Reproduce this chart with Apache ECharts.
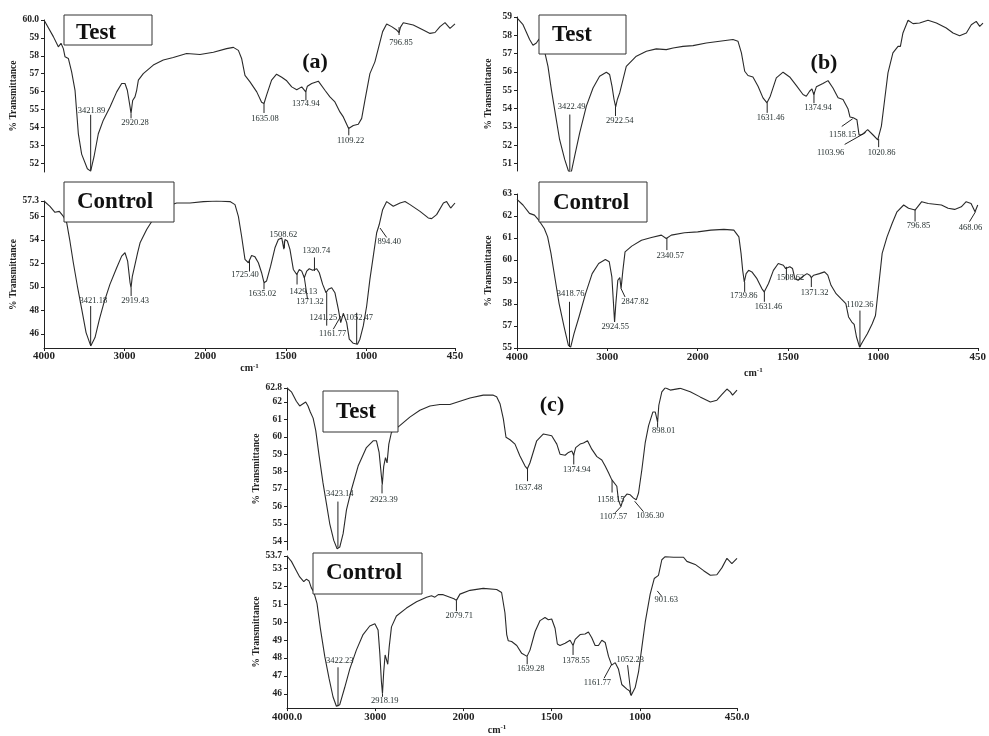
<!DOCTYPE html>
<html><head><meta charset="utf-8">
<script src="https://cdn.jsdelivr.net/npm/echarts@6/dist/echarts.min.js"></script>
<style>html,body{margin:0;padding:0;background:#fff}#c{width:989px;height:736px}</style>
</head><body><div id="c"></div>
<script>
// ---------- spectra: [wavenumber (cm-1), % transmittance] ----------
const aTest = [[4000,60.0],[3884,59.07],[3822,58.5],[3789,58.7],[3760,58.4],[3739,57.94],[3698,57.85],[3657,57.1],[3615,56.07],[3574,53.65],[3533,52.5],[3462,51.68],[3421,51.55],[3380,52.34],[3326,53.64],[3264,54.4],[3181,55.14],[3098,55.98],[3036,56.45],[2995,56.45],[2966,56.07],[2932,55.14],[2920,54.77],[2900,55.5],[2871,55.7],[2850,56.07],[2829,56.64],[2768,57.0],[2644,57.48],[2520,57.76],[2396,57.9],[2230,58.13],[2064,58.07],[1949,58.2],[1867,58.4],[1825,58.47],[1794,58.3],[1774,57.85],[1753,56.9],[1722,56.54],[1680,55.98],[1650,55.4],[1635,55.33],[1619,55.8],[1588,56.64],[1557,56.97],[1525,56.8],[1494,56.6],[1463,56.26],[1432,56.1],[1401,56.26],[1376,55.98],[1366,56.3],[1339,56.45],[1298,56.58],[1257,56.07],[1226,55.7],[1195,55.42],[1164,54.86],[1143,54.58],[1110,53.93],[1081,54.1],[1050,54.17],[1029,54.5],[1009,55.5],[978,57.0],[947,57.66],[926,58.4],[899,59.35],[874,59.78],[843,59.63],[812,59.44],[797,59.3],[788,59.6],[771,59.85],[709,59.72],[647,59.44],[605,59.25],[574,59.3],[543,59.63],[512,59.85],[481,59.53],[450,59.78]];
const aCtrl = [[4000,57.3],[3926,56.85],[3864,56.34],[3810,56.42],[3760,56.0],[3718,55.44],[3678,53.88],[3636,52.05],[3586,50.07],[3532,48.1],[3478,46.11],[3420,44.98],[3367,45.69],[3313,47.24],[3256,48.66],[3182,50.21],[3098,51.62],[3036,52.61],[2995,52.9],[2962,52.19],[2932,50.35],[2920,49.93],[2904,50.9],[2880,51.62],[2859,51.54],[2838,52.9],[2808,53.74],[2726,54.87],[2644,55.77],[2560,56.42],[2478,56.85],[2354,57.13],[2188,57.13],[2022,57.25],[1929,57.3],[1846,57.25],[1815,56.99],[1794,56.0],[1774,54.3],[1753,52.33],[1732,52.05],[1712,52.67],[1691,52.55],[1670,52.05],[1650,51.2],[1635,50.35],[1619,50.5],[1594,51.76],[1567,53.32],[1546,54.02],[1525,54.16],[1512,53.2],[1505,54.02],[1490,53.9],[1474,53.18],[1453,51.48],[1432,51.05],[1416,51.48],[1401,51.34],[1385,50.77],[1370,51.34],[1354,51.54],[1333,51.42],[1322,51.34],[1308,51.54],[1292,51.2],[1271,50.21],[1250,49.5],[1236,49.8],[1215,49.93],[1195,49.5],[1174,48.1],[1159,46.96],[1143,47.75],[1122,46.96],[1106,45.55],[1081,45.2],[1055,45.12],[1040,45.55],[1019,46.68],[998,48.37],[978,50.63],[957,52.61],[936,54.6],[920,55.3],[899,56.56],[874,57.25],[833,56.85],[791,57.13],[760,57.25],[729,56.99],[667,56.42],[616,55.86],[595,55.8],[564,56.14],[522,57.13],[502,57.25],[477,56.7],[450,57.13]];
const bTest = [[4000,58.95],[3934,58.58],[3862,57.77],[3825,57.46],[3788,57.58],[3759,57.8],[3734,57.4],[3698,57.13],[3661,56.31],[3624,55.04],[3588,53.95],[3534,52.32],[3478,51.23],[3431,50.51],[3406,50.54],[3369,51.41],[3314,52.68],[3241,54.14],[3168,55.13],[3096,55.77],[3022,55.99],[2986,55.86],[2960,55.22],[2938,54.5],[2920,54.1],[2902,54.5],[2876,54.86],[2858,54.77],[2840,55.59],[2804,56.31],[2694,56.86],[2584,57.13],[2476,57.26],[2366,57.22],[2292,57.31],[2184,57.4],[2074,57.44],[1964,57.58],[1891,57.68],[1818,57.77],[1791,57.68],[1772,57.04],[1754,56.04],[1736,55.81],[1709,55.73],[1681,55.22],[1654,54.59],[1632,54.32],[1614,54.68],[1581,55.68],[1544,55.99],[1508,55.73],[1471,55.26],[1435,54.77],[1417,54.68],[1399,54.95],[1386,55.08],[1376,54.77],[1362,55.19],[1326,55.37],[1298,55.53],[1271,55.13],[1243,54.59],[1216,54.5],[1189,54.0],[1178,53.55],[1160,53.5],[1140,53.4],[1128,52.55],[1110,52.6],[1081,52.86],[1050,52.55],[1026,52.3],[1019,52.35],[1006,53.05],[988,54.5],[970,55.95],[943,57.04],[915,57.4],[902,57.4],[888,58.13],[860,58.82],[833,58.64],[797,58.67],[751,58.82],[705,58.67],[651,58.4],[614,58.13],[578,57.98],[541,58.13],[514,58.58],[487,58.76],[468,58.49],[450,58.67]];
const bCtrl = [[4000,62.76],[3934,62.5],[3862,62.12],[3807,62.04],[3759,61.81],[3698,61.43],[3661,61.05],[3624,60.3],[3576,59.08],[3534,58.02],[3478,56.95],[3431,56.12],[3406,56.04],[3369,56.65],[3314,57.41],[3241,58.47],[3168,59.38],[3096,59.84],[3022,60.02],[2979,59.92],[2950,59.23],[2932,58.02],[2920,57.18],[2906,58.02],[2884,59.08],[2862,59.2],[2848,58.7],[2828,59.53],[2804,60.37],[2730,60.63],[2622,60.9],[2512,61.02],[2402,61.13],[2348,60.98],[2330,61.05],[2292,61.13],[2146,61.24],[2000,61.28],[1927,61.36],[1855,61.39],[1800,61.36],[1772,61.05],[1760,60.3],[1751,59.53],[1742,59.0],[1732,59.38],[1718,59.53],[1700,59.46],[1672,59.15],[1645,58.7],[1632,58.55],[1608,58.93],[1581,59.53],[1554,59.84],[1526,59.76],[1513,59.61],[1508,59.57],[1490,59.69],[1475,59.61],[1462,59.15],[1444,59.08],[1417,59.26],[1395,59.38],[1380,59.31],[1371,59.2],[1358,59.31],[1326,59.38],[1298,59.46],[1280,59.31],[1262,58.85],[1234,58.47],[1207,58.24],[1180,58.02],[1165,57.41],[1147,57.18],[1134,57.07],[1121,56.5],[1104,56.04],[1088,56.27],[1061,56.65],[1034,57.1],[1016,57.48],[997,58.93],[979,60.3],[952,61.05],[924,61.66],[897,62.19],[860,62.5],[833,62.35],[797,62.27],[760,62.65],[724,62.57],[651,62.5],[614,62.35],[578,62.3],[541,62.42],[514,62.65],[487,62.57],[465,62.19],[450,62.5]];
const cTest = [[4000,62.8],[3950,62.58],[3894,62.04],[3856,61.77],[3818,61.9],[3788,62.0],[3762,61.77],[3736,61.42],[3704,61.07],[3674,60.35],[3636,58.9],[3592,57.35],[3554,56.19],[3516,55.02],[3470,54.05],[3432,53.57],[3402,53.67],[3364,54.44],[3326,55.8],[3270,56.96],[3194,58.32],[3100,59.38],[3024,59.77],[2986,59.77],[2956,59.1],[2930,57.74],[2920,57.25],[2904,58.3],[2884,58.8],[2866,58.5],[2846,59.58],[2816,60.26],[2722,60.64],[2608,61.13],[2494,61.52],[2380,61.77],[2268,61.85],[2154,61.85],[2040,62.04],[1963,62.23],[1888,62.39],[1831,62.39],[1812,62.3],[1793,61.9],[1774,61.03],[1759,59.97],[1736,59.83],[1708,59.58],[1680,58.9],[1651,58.32],[1638,58.16],[1623,58.51],[1585,59.77],[1547,60.16],[1500,60.06],[1471,59.58],[1453,59.0],[1424,58.94],[1405,59.1],[1386,59.19],[1376,58.94],[1364,59.38],[1339,59.58],[1320,59.64],[1297,59.77],[1273,59.29],[1244,58.86],[1216,58.67],[1197,58.32],[1178,57.93],[1160,57.54],[1150,57.64],[1131,57.16],[1122,56.38],[1108,55.99],[1093,56.48],[1074,56.71],[1055,56.67],[1036,56.48],[1021,56.38],[1008,56.77],[989,58.12],[970,59.67],[951,60.64],[927,61.42],[913,61.42],[900,60.84],[893,61.81],[876,62.58],[857,62.81],[828,62.68],[772,62.78],[715,62.58],[659,62.29],[601,62.0],[564,62.1],[535,62.43],[507,62.74],[488,62.58],[475,62.39],[450,62.68]];
const cCtrl = [[4000,53.7],[3950,53.4],[3894,52.88],[3856,52.53],[3810,52.27],[3780,52.41],[3750,52.3],[3724,51.92],[3698,51.71],[3660,51.05],[3622,49.66],[3572,48.09],[3524,46.87],[3478,45.82],[3440,45.3],[3402,45.39],[3346,46.35],[3288,47.39],[3214,48.44],[3138,49.31],[3062,49.79],[3004,49.92],[2968,49.57],[2948,48.26],[2930,46.69],[2918,46.0],[2904,47.22],[2888,48.17],[2874,48.26],[2858,47.65],[2842,48.61],[2816,49.74],[2760,50.35],[2646,50.79],[2532,51.14],[2418,51.4],[2362,51.48],[2324,51.4],[2286,51.54],[2230,51.54],[2154,51.4],[2108,51.31],[2080,51.22],[2040,51.57],[1963,51.78],[1888,51.89],[1812,51.83],[1784,51.66],[1765,50.53],[1755,49.31],[1746,48.96],[1727,48.92],[1698,48.7],[1670,48.26],[1640,48.09],[1623,48.44],[1594,49.48],[1566,50.09],[1538,50.26],[1519,50.14],[1509,50.04],[1500,50.18],[1481,49.66],[1468,48.78],[1453,48.7],[1424,48.82],[1396,48.99],[1379,48.7],[1367,49.04],[1339,49.31],[1311,49.34],[1292,49.45],[1273,49.13],[1254,48.7],[1235,48.7],[1216,48.99],[1197,48.87],[1178,48.09],[1160,47.6],[1140,47.74],[1122,47.39],[1103,46.52],[1074,46.26],[1060,46.17],[1050,45.91],[1027,46.35],[1008,47.22],[989,48.61],[970,50.0],[942,51.57],[919,52.44],[908,52.36],[895,52.62],[876,53.49],[857,53.66],[809,53.63],[753,53.63],[734,53.4],[687,53.23],[639,52.88],[601,52.62],[564,52.65],[535,53.05],[507,53.57],[479,53.28],[450,53.57]];

// ---------- peak labels: [peak cm-1, peak %T, leader end cm-1, leader end %T, text cm-1, text %T, text] ----------
const aTestPeaks = [[3421,51.6,3421,54.7,3410,54.95,'3421.89'],[2920,54.77,2920,54.5,2871,54.26,'2920.28'],[1635,55.33,1635,54.8,1629,54.49,'1635.08'],[1375,56.0,1375,55.5,1375,55.29,'1374.94'],[1109,53.93,1109,53.55,1098,53.27,'1109.22'],[797,59.6,797,59.16,785,58.75,'796.85']];
const aCtrlPeaks = [[3421,45.0,3421,48.37,3388,48.8,'3421.18'],[2919,49.93,2919,49.22,2870,48.8,'2919.43'],[1725,52.3,1725,51.3,1753,51.0,'1725.40'],[1635,50.35,1635,49.79,1645,49.45,'1635.02'],[1509,53.3,1509,53.9,1515,54.4,'1508.62'],[1430,51.1,1430,50.2,1391,49.55,'1429.13'],[1385,50.8,1365,48.95,1350,48.7,'1371.32'],[1322,51.35,1322,52.5,1310,53.09,'1320.74'],[1246,49.5,1246,46.7,1267,47.33,'1241.25'],[1159,47.5,1205,46.4,1209,46.05,'1161.77'],[1060,45.12,1060,47.8,1044,47.33,'1052.47'],[915,55.0,874,54.2,858,53.8,'894.40']];
const bTestPeaks = [[3422,50.55,3422,53.68,3402,54.08,'3422.49'],[2922,54.1,2922,53.6,2876,53.32,'2922.54'],[1631,54.32,1631,53.77,1612,53.5,'1631.46'],[1375,54.9,1375,54.3,1353,54.05,'1374.94'],[1163,53.45,1223,53.03,1218,52.6,'1158.15'],[1092,52.7,1207,52.05,1284,51.61,'1103.96'],[1021,52.35,1021,51.9,1005,51.61,'1020.86']];
const bCtrlPeaks = [[3419,56.05,3419,58.1,3406,58.47,'3418.76'],[2925,57.2,2925,57.2,2912,56.98,'2924.55'],[2848,58.7,2804,58.32,2694,58.09,'2847.82'],[2341,61.0,2341,60.45,2304,60.17,'2340.57'],[1740,59.0,1740,58.55,1745,58.36,'1739.86'],[1631,58.55,1631,58.1,1608,57.86,'1631.46'],[1509,59.69,1509,59.08,1486,59.2,'1508.62'],[1371,59.2,1371,58.77,1353,58.52,'1371.32'],[1102,56.04,1102,57.7,1102,57.95,'1102.36'],[797,62.3,797,61.75,778,61.54,'796.85'],[462,62.2,496,61.74,490,61.48,'468.06']];
const cTestPeaks = [[3423,53.65,3423,56.28,3402,56.73,'3423.14'],[2923,57.25,2923,56.75,2902,56.38,'2923.39'],[1637,58.16,1637,57.45,1632,57.06,'1637.48'],[1375,59.0,1375,58.41,1358,58.12,'1374.94'],[1158,57.5,1158,56.8,1165,56.38,'1158.15'],[1108,55.99,1140,55.64,1150,55.4,'1107.57'],[1030,56.3,980,55.7,942,55.47,'1036.30'],[900,60.84,900,60.55,866,60.35,'898.01']];
const cCtrlPeaks = [[3422,45.3,3422,47.48,3402,47.86,'3422.23'],[2918,46.0,2918,45.83,2892,45.63,'2918.19'],[2080,51.22,2080,50.61,2048,50.35,'2079.71'],[1639,48.09,1639,47.65,1619,47.42,'1639.28'],[1379,48.7,1379,48.17,1362,47.83,'1378.55'],[1160,47.65,1203,46.87,1241,46.64,'1161.77'],[1050,45.91,1070,47.6,1055,47.9,'1052.23'],[902,51.75,876,51.44,851,51.27,'901.63']];

// ---------- axis ticks ----------
const xTickValues = [4000, 3000, 2000, 1500, 1000, 450];
const abXTickLabels = ['4000', '3000', '2000', '1500', '1000', '450'];
const cXTickLabels = ['4000.0', '3000', '2000', '1500', '1000', '450.0'];
const aTestYTicks = [60, 59, 58, 57, 56, 55, 54, 53, 52];
const aTestYLabels = ['60.0', '59', '58', '57', '56', '55', '54', '53', '52'];
const aCtrlYTicks = [57.3, 56, 54, 52, 50, 48, 46];
const aCtrlYLabels = ['57.3', '56', '54', '52', '50', '48', '46'];
const bTestYTicks = [59, 58, 57, 56, 55, 54, 53, 52, 51];
const bTestYLabels = ['59', '58', '57', '56', '55', '54', '53', '52', '51'];
const bCtrlYTicks = [63, 62, 61, 60, 59, 58, 57, 56];
const bCtrlYLabels = ['63', '62', '61', '60', '59', '58', '57', '55'];
const cTestYTicks = [62.8, 62, 61, 60, 59, 58, 57, 56, 55, 54];
const cTestYLabels = ['62.8', '62', '61', '60', '59', '58', '57', '56', '55', '54'];
const cCtrlYTicks = [53.7, 53, 52, 51, 50, 49, 48, 47, 46];
const cCtrlYLabels = ['53.7', '53', '52', '51', '50', '49', '48', '47', '46'];

// instrument scale: 4000-2000 cm-1 drawn at half the density of 2000-450 cm-1
const tw = w => (w > 2000 ? 2000 + (w - 2000) / 2 : w);

const SERIF = "'Liberation Serif', 'DejaVu Serif', serif";
const INK = '#222';

const panels = [
  { grid: { left: 44, top: 20, width: 411, height: 152 }, data: aTest, peaks: aTestPeaks, yMin: 51.5, yMax: 60, yT: aTestYTicks, yL: aTestYLabels, xLabels: null, nameGap: 22 },
  { grid: { left: 44, top: 201, width: 411, height: 147 }, data: aCtrl, peaks: aCtrlPeaks, yMin: 44.8, yMax: 57.3, yT: aCtrlYTicks, yL: aCtrlYLabels, xLabels: abXTickLabels, nameGap: 22, xNameGap: 10, xMargin: 3, xNamePad: [0, 0, 0, 0] },
  { grid: { left: 517, top: 17, width: 466, height: 154 }, data: bTest, peaks: bTestPeaks, yMin: 50.6, yMax: 59, yT: bTestYTicks, yL: bTestYLabels, xLabels: null, nameGap: 23 },
  { grid: { left: 517, top: 194, width: 466, height: 154 }, data: bCtrl, peaks: bCtrlPeaks, yMin: 56, yMax: 63, yT: bCtrlYTicks, yL: bCtrlYLabels, xLabels: abXTickLabels, nameGap: 23, xNameGap: 19, xMargin: 4, xNamePad: [0, 0, 0, 12] },
  { grid: { left: 287, top: 388, width: 450, height: 162 }, data: cTest, peaks: cTestPeaks, yMin: 53.5, yMax: 62.8, yT: cTestYTicks, yL: cTestYLabels, xLabels: null, nameGap: 19 },
  { grid: { left: 287, top: 556, width: 450, height: 162 }, data: cCtrl, peaks: cCtrlPeaks, yMin: 45.2, yMax: 53.7, yT: cCtrlYTicks, yL: cCtrlYLabels, xLabels: cXTickLabels, nameGap: 19, xNameGap: 9, xMargin: 4, xNamePad: [0, 30, 0, 0] }
];

const grid = [], xAxis = [], yAxis = [], series = [];
panels.forEach((p, i) => {
  grid.push(Object.assign({ containLabel: false }, p.grid));
  const hasX = !!p.xLabels;
  const xMap = {};
  if (hasX) xTickValues.forEach((v, k) => { xMap[tw(v)] = p.xLabels[k]; });
  xAxis.push({
    gridIndex: i, type: 'value', min: 450, max: 3000, inverse: true,
    show: true,
    axisLine: { show: hasX, onZero: false, lineStyle: { color: INK, width: 1 } },
    axisTick: { show: hasX, length: 3, inside: false, customValues: xTickValues.map(tw), lineStyle: { color: INK } },
    axisLabel: {
      show: hasX, customValues: xTickValues.map(tw), margin: p.xMargin || 4,
      formatter: v => (xMap[v] !== undefined ? xMap[v] : ''),
      fontFamily: SERIF, fontSize: 11, fontWeight: 'bold', color: INK
    },
    splitLine: { show: false },
    name: hasX ? '{a|cm}{b|-1}' : '',
    nameLocation: 'middle', nameGap: p.xNameGap || 10,
    nameTextStyle: {
      padding: p.xNamePad || 0,
      rich: {
        a: { fontFamily: SERIF, fontSize: 10, fontWeight: 'bold', color: INK },
        b: { fontFamily: SERIF, fontSize: 7, fontWeight: 'bold', color: INK, verticalAlign: 'top', padding: [0, 0, 5, 0] }
      }
    }
  });
  const yMap = {};
  p.yT.forEach((v, k) => { yMap[v] = p.yL[k]; });
  yAxis.push({
    gridIndex: i, type: 'value', min: p.yMin, max: p.yMax,
    axisLine: { show: true, onZero: false, lineStyle: { color: INK, width: 1 } },
    axisTick: { show: true, length: 3, customValues: p.yT, lineStyle: { color: INK } },
    axisLabel: {
      customValues: p.yT, margin: 5,
      formatter: v => (yMap[v] !== undefined ? yMap[v] : ''),
      fontFamily: SERIF, fontSize: 9.5, fontWeight: 'bold', color: INK
    },
    splitLine: { show: false },
    name: '% Transmittance', nameLocation: 'middle', nameRotate: 90, nameGap: p.nameGap,
    nameTextStyle: { fontFamily: SERIF, fontSize: 9.5, fontWeight: 'bold', color: INK }
  });
  series.push({
    type: 'line', xAxisIndex: i, yAxisIndex: i, showSymbol: false, symbol: 'none',
    data: p.data.map(d => [tw(d[0]), d[1]]),
    lineStyle: { color: '#2a2a2a', width: 1.1 }, silent: true, z: 3
  });
  const peaks = p.peaks;
  series.push({
    type: 'custom', xAxisIndex: i, yAxisIndex: i, silent: true, z: 4,
    data: peaks.map(a => [tw(a[0]), a[1]]),
    renderItem: (params, api) => {
      const a = peaks[params.dataIndex];
      const p1 = api.coord([tw(a[0]), a[1]]);
      const p2 = api.coord([tw(a[2]), a[3]]);
      const p3 = api.coord([tw(a[4]), a[5]]);
      return {
        type: 'group',
        children: [
          { type: 'line', shape: { x1: p1[0], y1: p1[1], x2: p2[0], y2: p2[1] }, style: { stroke: '#222', lineWidth: 1 } },
          { type: 'text', x: p3[0], y: p3[1], style: { text: a[6], align: 'center', verticalAlign: 'middle', fontFamily: SERIF, fontSize: 8.5, fill: '#1f2a2a' } }
        ]
      };
    }
  });
});

function box(x, y, w, h, label, tx, ty) {
  return [
    { type: 'rect', shape: { x: x, y: y, width: w, height: h }, style: { fill: '#fff', stroke: '#333', lineWidth: 1 }, z: 10 },
    { type: 'text', x: tx, y: ty, style: { text: label, fontFamily: SERIF, fontSize: 23, fontWeight: 'bold', fill: '#111', align: 'center', verticalAlign: 'middle' }, z: 11 }
  ];
}
function letter(txt, x, y) {
  return { type: 'text', x: x, y: y, style: { text: txt, fontFamily: SERIF, fontSize: 22, fontWeight: 'bold', fill: '#111', align: 'center', verticalAlign: 'middle' }, z: 11 };
}

const graphic = [].concat(
  box(64, 15, 88, 30, 'Test', 96, 33),
  box(64, 182, 110, 40, 'Control', 115, 202),
  box(539, 15, 87, 39, 'Test', 572, 35),
  box(539, 182, 108, 40, 'Control', 591, 203),
  box(323, 391, 75, 41, 'Test', 356, 412),
  box(313, 553, 109, 41, 'Control', 364, 573),
  [letter('(a)', 315, 62), letter('(b)', 824, 63), letter('(c)', 552, 405)]
);

const chart = echarts.init(document.getElementById('c'), null, { renderer: 'canvas' });
chart.setOption({ animation: false, backgroundColor: '#fff', grid, xAxis, yAxis, series, graphic });
</script></body></html>
